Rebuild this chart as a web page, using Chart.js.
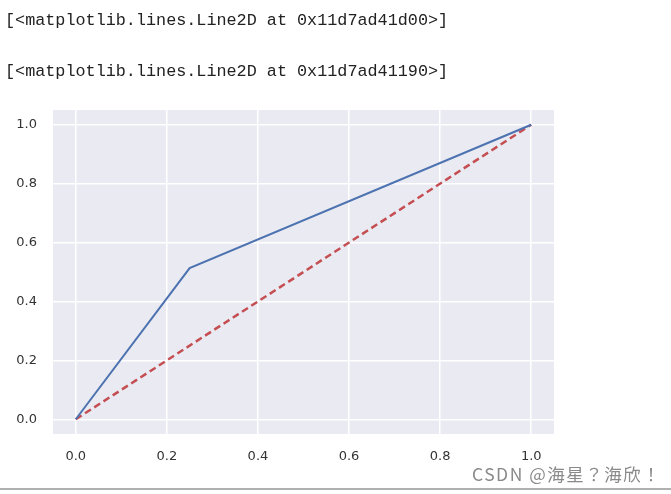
<!DOCTYPE html>
<html>
<head>
<meta charset="utf-8">
<script src="https://cdn.jsdelivr.net/npm/chart.js@4/dist/chart.umd.min.js"></script>
<style>
  html, body { margin: 0; padding: 0; background: #fff; width: 671px; height: 494px; overflow: hidden; }
  #wrap { position: absolute; left: 0; top: 0; width: 671px; height: 494px; }
  .out { position: absolute; left: 5px; font-family: "Liberation Mono", monospace; font-size: 16.8px; color: #222; white-space: pre; line-height: 20px; }
  #wm { position: absolute; left: 472px; top: 463px; font-family: "Noto Sans CJK JP", "Noto Sans CJK SC", sans-serif; font-size: 17.5px; letter-spacing: 1.5px; color: #8a8a8a; white-space: pre; line-height: 22px; }
  #rule { position: absolute; left: 0; top: 488px; width: 671px; height: 2px; background: #b0b0b0; }
</style>
</head>
<body>
<div id="wrap"><canvas id="c" width="671" height="494"></canvas></div>
<div class="out" style="top:11px">[&lt;matplotlib.lines.Line2D at 0x11d7ad41d00&gt;]</div>
<div class="out" style="top:62px">[&lt;matplotlib.lines.Line2D at 0x11d7ad41190&gt;]</div>
<div id="wm">CSDN @海星？海欣！</div>
<div id="rule"></div>
<script>
// Data
const fpr = [0, 0.25, 1];
const tpr = [0, 0.513, 1];
const diagX = [0, 1];
const diagY = [0, 1];
const xTicks = [0, 0.2, 0.4, 0.6, 0.8, 1.0];
const yTicks = [0, 0.2, 0.4, 0.6, 0.8, 1.0];

const toPts = (xs, ys) => xs.map((x, i) => ({ x: x, y: ys[i] }));

const bgPlugin = {
  id: 'bg',
  beforeDraw(chart) {
    const a = chart.chartArea, ctx = chart.ctx;
    ctx.save();
    ctx.fillStyle = '#eaeaf2';
    ctx.fillRect(a.left, a.top, a.right - a.left, a.bottom - a.top);
    ctx.restore();
  }
};

const tickFont = { family: 'DejaVu Sans', size: 13 };

new Chart(document.getElementById('c'), {
  type: 'scatter',
  data: {
    datasets: [
      {
        data: toPts(fpr, tpr),
        showLine: true,
        borderColor: '#4c72b0',
        borderWidth: 2,
        pointRadius: 0,
        fill: false,
        tension: 0
      },
      {
        data: toPts(diagX, diagY),
        showLine: true,
        borderColor: '#c44e52',
        borderWidth: 2.5,
        borderDash: [7, 4],
        pointRadius: 0,
        fill: false,
        tension: 0
      }
    ]
  },
  options: {
    responsive: false,
    animation: false,
    layout: { padding: { top: 110, right: 117, left: 0, bottom: 0 } },
    plugins: { legend: { display: false }, tooltip: { enabled: false } },
    scales: {
      x: {
        type: 'linear',
        min: -0.05, max: 1.05,
        afterBuildTicks(scale) { scale.ticks = xTicks.map(v => ({ value: v })); },
        afterFit(scale) { scale.height = 60; },
        border: { display: false },
        grid: { color: '#ffffff', lineWidth: 1.5, drawTicks: false },
        ticks: { padding: 15, color: '#333', font: tickFont, maxRotation: 0, callback: v => Number(v).toFixed(1) }
      },
      y: {
        type: 'linear',
        min: -0.05, max: 1.05,
        afterBuildTicks(scale) { scale.ticks = yTicks.map(v => ({ value: v })); },
        afterFit(scale) { scale.width = 53; },
        border: { display: false },
        grid: { color: '#ffffff', lineWidth: 1.5, drawTicks: false },
        ticks: { padding: 16, color: '#333', font: tickFont, callback: v => Number(v).toFixed(1) }
      }
    }
  },
  plugins: [bgPlugin]
});
</script>
</body>
</html>
